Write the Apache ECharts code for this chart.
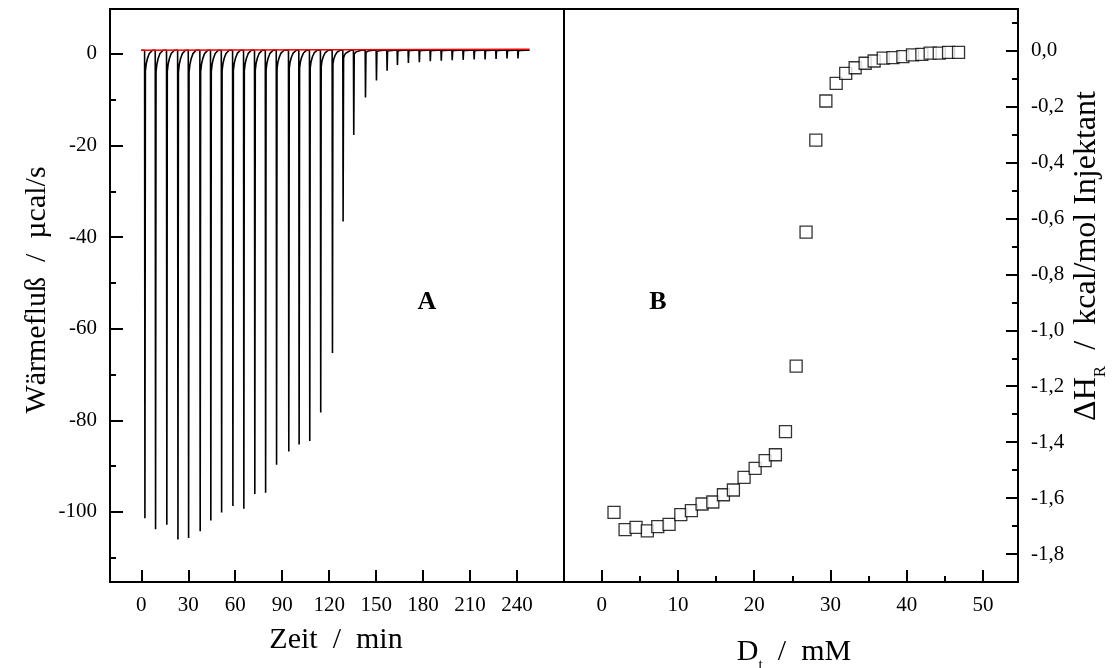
<!DOCTYPE html>
<html>
<head>
<meta charset="utf-8">
<script src="https://cdn.jsdelivr.net/npm/echarts@6/dist/echarts.min.js"></script>
<style>
html,body{margin:0;padding:0;background:#fff;}
#c{width:1116px;height:668px;}
</style>
</head>
<body>
<div id="c"></div>
<script>
// ---- Panel A: thermogram (time in min, heat flow in µcal/s) ----
const timeTicks = [0, 30, 60, 90, 120, 150, 180, 210, 240];
const powerTicks = [0, -20, -40, -60, -80, -100];
const powerMinorTicks = [-10, -30, -50, -70, -90, -110];
const peakTimes = [2.1, 8.9, 16.1, 23.2, 30.0, 37.4, 44.2, 51.1, 58.3, 65.3, 72.3, 79.2,
  86.2, 94.0, 100.6, 107.4, 114.4, 121.9, 128.7, 135.5, 143.0, 150.0, 156.8, 163.4,
  170.4, 177.4, 184.4, 191.4, 198.4, 205.4, 212.4, 219.4, 226.4, 233.4, 240.4];
const peakMinima = [-101.4, -103.8, -102.8, -106.0, -105.7, -104.2, -101.9, -100.1, -98.7, -99.3,
  -96.1, -95.8, -89.7, -86.8, -85.3, -84.5, -78.3, -65.3, -36.6, -17.7, -9.5, -5.8, -3.7, -2.4,
  -2.0, -1.8, -1.6, -1.5, -1.4, -1.3, -1.2, -1.2, -1.1, -1.0, -1.0];
const baselineLevel = 0.8;
const traceEnd = 248;
const redBaseline = [[0, 0.8], [248, 1.0]];
// shape of one injection peak (offset in min, fraction of peak height)
const peakShapeDt = [0, 0.2, 0.5, 1.0, 1.8, 3.0, 5.0];
const peakShapeFrac = [0, 1, 0.045, 0.03, 0.018, 0.007, 0];

// ---- Panel B: integrated heats ----
const concTicks = [0, 10, 20, 30, 40, 50];
const concMinorTicks = [5, 15, 25, 35, 45];
const dHTicks = [0, -0.2, -0.4, -0.6, -0.8, -1.0, -1.2, -1.4, -1.6, -1.8];
const dHMinorTicks = [0.1, -0.1, -0.3, -0.5, -0.7, -0.9, -1.1, -1.3, -1.5, -1.7];
const concDt = [1.61, 3.06, 4.5, 5.98, 7.35, 8.83, 10.37, 11.76, 13.16, 14.57, 15.96, 17.27,
  18.67, 20.12, 21.43, 22.78, 24.1, 25.5, 26.8, 28.08, 29.4, 30.75, 32.0, 33.24, 34.55,
  35.73, 36.92, 38.19, 39.5, 40.76, 41.99, 43.08, 44.27, 45.49, 46.8];
const deltaH = [-1.651, -1.713, -1.705, -1.717, -1.702, -1.694, -1.659, -1.645, -1.621, -1.614,
  -1.588, -1.571, -1.526, -1.494, -1.466, -1.445, -1.362, -1.128, -0.649, -0.320, -0.180,
  -0.117, -0.081, -0.061, -0.045, -0.037, -0.027, -0.025, -0.021, -0.015, -0.013, -0.009,
  -0.009, -0.006, -0.006];

const trace = [[0, baselineLevel]];
peakTimes.forEach((t, i) => {
  for (let k = 0; k < peakShapeDt.length; k++) {
    trace.push([t + peakShapeDt[k], baselineLevel + (peakMinima[i] - baselineLevel) * peakShapeFrac[k]]);
  }
});
trace.push([traceEnd, baselineLevel]);
const scatterData = concDt.map((x, i) => [x, deltaH[i]]);

const FONT = "'Liberation Serif', 'DejaVu Serif', serif";
const tickStyle = { color: '#000', width: 2 };
const labelBase = { color: '#000', fontFamily: FONT, fontSize: 21 };
const noLine = { show: false, onZero: false };

const G = { top: 9, height: 573 };
const gridL = { left: 110, width: 454 };
const gridR = { left: 564, width: 454 };

const chart = echarts.init(document.getElementById('c'), null, { renderer: 'canvas' });
chart.setOption({
  animation: false,
  backgroundColor: '#fff',
  grid: [
    Object.assign({ show: true, borderColor: '#000', borderWidth: 2, containLabel: false }, G, gridL),
    Object.assign({ show: true, borderColor: '#000', borderWidth: 2, containLabel: false }, G, gridR),
    Object.assign({ show: false }, G, gridR),
    Object.assign({ show: false }, G, gridL)
  ],
  xAxis: [
    { type: 'value', gridIndex: 0, min: -20, max: 270, position: 'bottom', axisLine: noLine, splitLine: { show: false },
      axisTick: { inside: true, length: 12, lineStyle: tickStyle, customValues: timeTicks },
      axisLabel: Object.assign({ margin: 13, customValues: timeTicks }, labelBase) },
    { type: 'value', gridIndex: 1, min: -4.95, max: 54.6, position: 'bottom', axisLine: noLine, splitLine: { show: false },
      axisTick: { inside: true, length: 12, lineStyle: tickStyle, customValues: concTicks },
      axisLabel: Object.assign({ margin: 13, customValues: concTicks }, labelBase) },
    { type: 'value', gridIndex: 2, min: -4.95, max: 54.6, position: 'bottom', axisLine: noLine, splitLine: { show: false },
      axisTick: { inside: true, length: 6, lineStyle: tickStyle, customValues: concMinorTicks },
      axisLabel: { show: false } },
    { type: 'value', gridIndex: 3, min: -20, max: 270, show: false }
  ],
  yAxis: [
    { type: 'value', gridIndex: 0, min: -115.3, max: 9.8, position: 'left', axisLine: noLine, splitLine: { show: false },
      axisTick: { inside: true, length: 13, lineStyle: tickStyle, customValues: powerTicks },
      axisLabel: Object.assign({ margin: 13, customValues: powerTicks }, labelBase) },
    { type: 'value', gridIndex: 1, min: -1.9, max: 0.149, position: 'right', axisLine: noLine, splitLine: { show: false },
      axisTick: { inside: true, length: 12, lineStyle: tickStyle, customValues: dHTicks },
      axisLabel: Object.assign({ margin: 13, customValues: dHTicks,
        formatter: v => (Math.abs(v) < 1e-9 ? 0 : v).toFixed(1).replace('.', ',') }, labelBase) },
    { type: 'value', gridIndex: 2, min: -1.9, max: 0.149, position: 'right', axisLine: noLine, splitLine: { show: false },
      axisTick: { inside: true, length: 6, lineStyle: tickStyle, customValues: dHMinorTicks },
      axisLabel: { show: false } },
    { type: 'value', gridIndex: 3, min: -115.3, max: 9.8, position: 'left', axisLine: noLine, splitLine: { show: false },
      axisTick: { inside: true, length: 6, lineStyle: tickStyle, customValues: powerMinorTicks },
      axisLabel: { show: false } }
  ],
  series: [
    { type: 'line', xAxisIndex: 0, yAxisIndex: 0, data: trace, showSymbol: false, symbol: 'none',
      sampling: null, lineStyle: { color: '#000', width: 1.6 }, z: 2 },
    { type: 'line', xAxisIndex: 0, yAxisIndex: 0, data: redBaseline, showSymbol: false, symbol: 'none',
      lineStyle: { color: '#ff0000', width: 1.5 }, z: 3 },
    { type: 'scatter', xAxisIndex: 1, yAxisIndex: 1, data: scatterData, symbol: 'rect', symbolSize: 12,
      itemStyle: { color: '#fff', borderColor: '#000', borderWidth: 1.3 }, z: 4 }
  ],
  graphic: [
    { type: 'text', x: 427, y: 302, style: { text: 'A', font: "bold 26px " + FONT, fill: '#000', align: 'center', verticalAlign: 'middle' } },
    { type: 'text', x: 658, y: 302, style: { text: 'B', font: "bold 26px " + FONT, fill: '#000', align: 'center', verticalAlign: 'middle' } },
    { type: 'text', x: 336, y: 640, style: { text: 'Zeit  /  min', font: "30px " + FONT, fill: '#000', align: 'center', verticalAlign: 'middle' } },
    { type: 'text', x: 794, y: 655, style: {
        text: '{m|D}{s|t}{sp| }{m|  /  mM}', align: 'center', verticalAlign: 'middle', fill: '#000',
        rich: {
          m: { fontFamily: FONT, fontSize: 30, lineHeight: 30, verticalAlign: 'top', fill: '#000' },
          s: { fontFamily: FONT, fontSize: 15, lineHeight: 15, verticalAlign: 'bottom', fill: '#000' },
          sp: { fontFamily: FONT, fontSize: 1, lineHeight: 36 }
        } } },
    { type: 'text', x: 37, y: 290, rotation: Math.PI / 2, style: { text: 'Wärmefluß  /  µcal/s', font: "30px " + FONT, fill: '#000', align: 'center', verticalAlign: 'middle' } },
    { type: 'text', x: 1090, y: 256, rotation: Math.PI / 2, style: {
        text: '{m|ΔH}{s|R}{sp| }{m|  /  kcal/mol Injektant}', align: 'center', verticalAlign: 'middle', fill: '#000',
        rich: {
          m: { fontFamily: FONT, fontSize: 32, lineHeight: 32, verticalAlign: 'top', fill: '#000' },
          s: { fontFamily: FONT, fontSize: 17, lineHeight: 17, verticalAlign: 'bottom', fill: '#000' },
          sp: { fontFamily: FONT, fontSize: 1, lineHeight: 39 }
        } } }
  ]
});
</script>
</body>
</html>
